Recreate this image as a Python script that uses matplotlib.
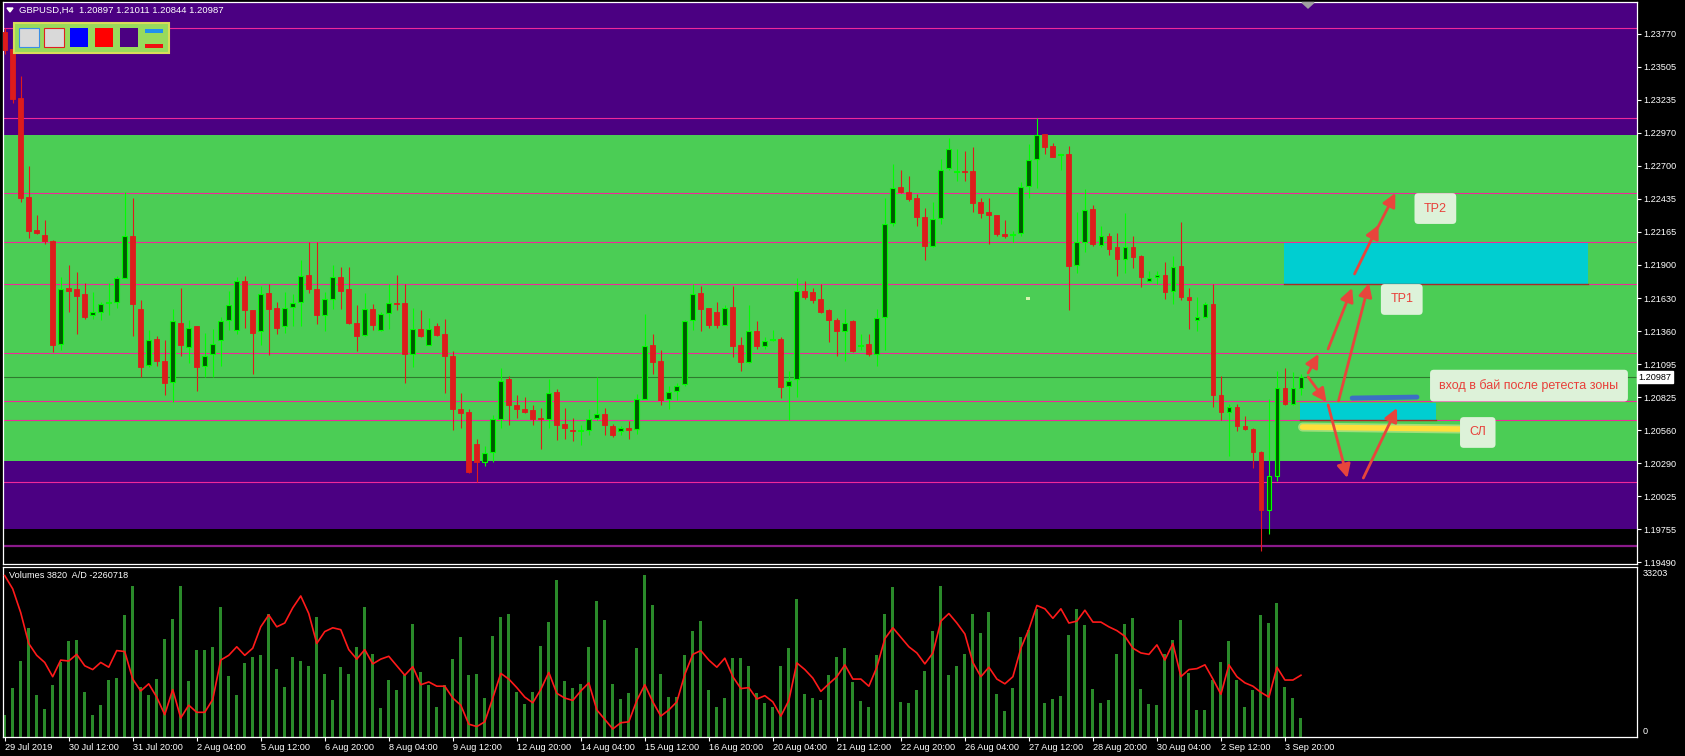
import matplotlib.pyplot as plt
import matplotlib.patches as patches
import numpy as np

plt.rcParams['font.family'] = ['Liberation Sans', 'DejaVu Sans']

W, H = 1685, 756

# GBPUSD H4 candles (29 Jul 2019 .. 4 Sep 2019)
opens = [
    1.2379, 1.2365, 1.2325, 1.2245, 1.2218, 1.2214, 1.2209, 1.2126, 1.2171, 1.2170,
    1.2166, 1.2149, 1.2152, 1.2159, 1.2160, 1.2179, 1.2213, 1.2154, 1.2109, 1.2130,
    1.2112, 1.2095, 1.2143, 1.2123, 1.2140, 1.2108, 1.2118, 1.2129, 1.2145, 1.2137,
    1.2177, 1.2153, 1.2136, 1.2167, 1.2155, 1.2140, 1.2156, 1.2160, 1.2182, 1.2170,
    1.2149, 1.2162, 1.2180, 1.2170, 1.2143, 1.2133, 1.2154, 1.2137, 1.2151, 1.2159,
    1.2159, 1.2118, 1.2138, 1.2125, 1.2140, 1.2134, 1.2116, 1.2073, 1.2071, 1.2045,
    1.2030, 1.2038, 1.2065, 1.2097, 1.2076, 1.2073, 1.2072, 1.2066, 1.2065, 1.2087,
    1.2061, 1.2056, 1.2055, 1.2056, 1.2066, 1.2069, 1.2059, 1.2055, 1.2058, 1.2057,
    1.2081, 1.2125, 1.2112, 1.2081, 1.2088, 1.2093, 1.2145, 1.2167, 1.2155, 1.2152,
    1.2141, 1.2156, 1.2125, 1.2111, 1.2136, 1.2124, 1.2129, 1.2130, 1.2092, 1.2097,
    1.2169, 1.2168, 1.2162, 1.2153, 1.2145, 1.2136, 1.2144, 1.2124, 1.2126, 1.2118,
    1.2148, 1.2224, 1.2253, 1.2249, 1.2244, 1.2229, 1.2205, 1.2228, 1.2268, 1.2265,
    1.2266, 1.2266, 1.2241, 1.2233, 1.2230, 1.2215, 1.2214, 1.2216, 1.2254, 1.2276,
    1.2296, 1.2286, 1.2279, 1.2280, 1.2190, 1.2208, 1.2235, 1.2206, 1.2213, 1.2204,
    1.2195, 1.2204, 1.2197, 1.2177, 1.2180, 1.2182, 1.2169, 1.2189, 1.2164, 1.2145,
    1.2148, 1.2158, 1.2084, 1.2071, 1.2075, 1.2059, 1.2057, 1.2038, 1.1991, 1.2019,
    1.2090, 1.2077, 1.20897]
highs = [
    1.2382, 1.2372, 1.2343, 1.2270, 1.2230, 1.2226, 1.2210, 1.2180, 1.2190, 1.2184,
    1.2175, 1.2168, 1.2160, 1.2175, 1.2181, 1.2249, 1.2244, 1.2161, 1.2137, 1.2132,
    1.2129, 1.2154, 1.2171, 1.2145, 1.2140, 1.2135, 1.2138, 1.2148, 1.2169, 1.2180,
    1.2181, 1.2153, 1.2173, 1.2174, 1.2160, 1.2168, 1.2166, 1.2194, 1.2208, 1.2208,
    1.2168, 1.2190, 1.2188, 1.2188, 1.2157, 1.2167, 1.2158, 1.2152, 1.2174, 1.2182,
    1.2174, 1.2155, 1.2153, 1.2147, 1.2143, 1.2146, 1.2120, 1.2086, 1.2073, 1.2049,
    1.2043, 1.2068, 1.2106, 1.2100, 1.2084, 1.2083, 1.2076, 1.2074, 1.2097, 1.2089,
    1.2074, 1.2066, 1.2060, 1.2073, 1.2099, 1.2074, 1.2061, 1.2059, 1.2063, 1.2085,
    1.2150, 1.2134, 1.2121, 1.2092, 1.2094, 1.2145, 1.2174, 1.2173, 1.2155, 1.2160,
    1.2157, 1.2173, 1.2131, 1.2157, 1.2144, 1.2131, 1.2137, 1.2131, 1.2104, 1.2179,
    1.2177, 1.2171, 1.2174, 1.2154, 1.2147, 1.2154, 1.2145, 1.2134, 1.2134, 1.2154,
    1.2244, 1.2272, 1.2267, 1.2262, 1.2247, 1.2236, 1.2241, 1.2276, 1.2293, 1.2284,
    1.2282, 1.2285, 1.2244, 1.2244, 1.2230, 1.2226, 1.2217, 1.2257, 1.2288, 1.2309,
    1.2296, 1.2289, 1.2280, 1.2286, 1.2233, 1.2251, 1.2238, 1.2221, 1.2216, 1.2216,
    1.2232, 1.2213, 1.2198, 1.2185, 1.2185, 1.2192, 1.2197, 1.2225, 1.2171, 1.2164,
    1.2160, 1.2174, 1.2100, 1.2077, 1.2077, 1.2067, 1.2058, 1.2039, 1.2081, 1.2104,
    1.2106, 1.2103, 1.21011]
lows = [
    1.2361, 1.2321, 1.2241, 1.2212, 1.2215, 1.2207, 1.2119, 1.2121, 1.2152, 1.2134,
    1.2146, 1.2146, 1.2145, 1.2149, 1.2155, 1.2181, 1.2132, 1.2099, 1.2107, 1.2108,
    1.2084, 1.2079, 1.2116, 1.2110, 1.2088, 1.2099, 1.2099, 1.2108, 1.2137, 1.2134,
    1.2139, 1.2101, 1.2125, 1.2117, 1.2134, 1.2135, 1.2140, 1.2140, 1.2167, 1.2142,
    1.2136, 1.2154, 1.2154, 1.2142, 1.2120, 1.2132, 1.2137, 1.2136, 1.2138, 1.2153,
    1.2094, 1.2107, 1.2131, 1.2125, 1.2132, 1.2086, 1.2056, 1.2058, 1.2021, 1.2014,
    1.2027, 1.2030, 1.2058, 1.2060, 1.2066, 1.2070, 1.2060, 1.2041, 1.2058, 1.2048,
    1.2049, 1.2047, 1.2044, 1.2052, 1.2064, 1.2052, 1.2050, 1.2052, 1.2049, 1.2053,
    1.2081, 1.2101, 1.2076, 1.2073, 1.2080, 1.2092, 1.2137, 1.2136, 1.2139, 1.2139,
    1.2141, 1.2115, 1.2104, 1.2110, 1.2122, 1.2122, 1.2128, 1.2082, 1.2064, 1.2083,
    1.2162, 1.2159, 1.2151, 1.2127, 1.2116, 1.2112, 1.2119, 1.2121, 1.2116, 1.2108,
    1.2121, 1.2221, 1.2248, 1.2242, 1.2221, 1.2194, 1.2204, 1.2223, 1.2267, 1.2258,
    1.2258, 1.2233, 1.2228, 1.2207, 1.2213, 1.2212, 1.2208, 1.2213, 1.2244, 1.2252,
    1.2280, 1.2277, 1.2267, 1.2153, 1.2183, 1.2200, 1.2205, 1.2204, 1.2198, 1.2181,
    1.2183, 1.2187, 1.2172, 1.2176, 1.2174, 1.2162, 1.2158, 1.2161, 1.2138, 1.2136,
    1.2147, 1.2075, 1.2064, 1.2035, 1.2055, 1.2056, 1.2025, 1.1958, 1.1972, 1.2015,
    1.2076, 1.2076, 1.20844]
closes = [
    1.2364, 1.2324, 1.2244, 1.2217, 1.2216, 1.2209, 1.2125, 1.2170, 1.2169, 1.2165,
    1.2148, 1.2152, 1.2158, 1.2160, 1.2179, 1.2213, 1.2158, 1.2107, 1.2129, 1.2112,
    1.2094, 1.2144, 1.2125, 1.2139, 1.2107, 1.2116, 1.2126, 1.2144, 1.2157, 1.2177,
    1.2153, 1.2135, 1.2166, 1.2154, 1.2139, 1.2155, 1.2159, 1.2181, 1.2170, 1.2149,
    1.2162, 1.2180, 1.2169, 1.2143, 1.2132, 1.2154, 1.2141, 1.2150, 1.2159, 1.2158,
    1.2118, 1.2138, 1.2132, 1.2138, 1.2133, 1.2116, 1.2073, 1.2070, 1.2022, 1.2030,
    1.2037, 1.2065, 1.2096, 1.2076, 1.2073, 1.2071, 1.2065, 1.2065, 1.2086, 1.2060,
    1.2058, 1.2055, 1.2056, 1.2065, 1.2069, 1.2060, 1.2052, 1.2058, 1.2056, 1.2081,
    1.2124, 1.2111, 1.2080, 1.2087, 1.2092, 1.2144, 1.2166, 1.2154, 1.2141, 1.2141,
    1.2155, 1.2124, 1.2111, 1.2136, 1.2124, 1.2128, 1.2130, 1.2091, 1.2096, 1.2169,
    1.2164, 1.2161, 1.2152, 1.2145, 1.2136, 1.2143, 1.2120, 1.2125, 1.2118, 1.2147,
    1.2223, 1.2252, 1.2249, 1.2243, 1.2229, 1.2205, 1.2227, 1.2267, 1.2284, 1.2266,
    1.2265, 1.2240, 1.2232, 1.2230, 1.2215, 1.2213, 1.2215, 1.2253, 1.2275, 1.2295,
    1.2285, 1.2277, 1.2279, 1.2189, 1.2208, 1.2234, 1.2207, 1.2213, 1.2203, 1.2195,
    1.2204, 1.2196, 1.2180, 1.2179, 1.2182, 1.2168, 1.2188, 1.2164, 1.2161, 1.2148,
    1.2158, 1.2084, 1.2071, 1.2075, 1.2059, 1.2057, 1.2038, 1.1991, 1.2019, 1.2090,
    1.2077, 1.2090, 1.20987]

volumes = [
    4480, 10020, 15570, 22180, 8560, 5740, 10700, 15370, 19560, 19750,
    9240, 4480, 6520, 11680, 12070, 24910, 30840, 10120, 8560, 11870,
    19950, 24030, 30840, 11480, 17710, 17710, 18290, 26560, 12550, 8560,
    15180, 16440, 16830, 25200, 13820, 10220, 16250, 15570, 14600, 24520,
    12940, 7590, 14210, 12940, 18290, 26560, 17030, 5940, 11680, 9630,
    12750, 23060, 13330, 10700, 6130, 10700, 15860, 20530, 12750, 12940,
    7980, 20720, 24520, 25100, 9240, 6710, 9240, 18680, 23450, 32110,
    11480, 10020, 10900, 18490, 27730, 23840, 10900, 7780, 9050, 18100,
    33203, 26950, 12940, 8170, 8170, 16830, 21600, 23640, 9630, 6130,
    7980, 16050, 16050, 14600, 9050, 6910, 6130, 14600, 18100, 28220,
    8760, 7980, 7590, 12750, 16250, 18100, 11290, 7390, 6130, 16830,
    25100, 30650, 7200, 6910, 9630, 13520, 21600, 30840, 12750, 14600,
    17030, 25100, 21210, 25490, 8760, 5250, 10020, 20530, 21800, 26080,
    6910, 7780, 8370, 20920, 26080, 22870, 9830, 6910, 7590, 17030,
    23060, 24230, 9830, 6710, 6520, 17030, 19750, 23840, 13140, 5550,
    5550, 11680, 15370, 19560, 11680, 6130, 9630, 24910, 23250, 27340,
    10220, 7980, 3820]

# Accumulation/Distribution, thousands
ad_k = [
    -1631, -1715, -1865, -2060, -2135, -2180, -2270, -2165, -2171, -2129,
    -2201, -2225, -2180, -2210, -2105, -2111, -2285, -2360, -2315, -2399,
    -2510, -2351, -2531, -2450, -2495, -2495, -2414, -2165, -2135, -2081,
    -2135, -2090, -1955, -1880, -1955, -1931, -1835, -1760, -1871, -2060,
    -1985, -1961, -1973, -2099, -2159, -2099, -2189, -2159, -2141, -2201,
    -2261, -2207, -2321, -2303, -2330, -2330, -2405, -2450, -2570, -2585,
    -2555, -2405, -2249, -2285, -2339, -2399, -2435, -2351, -2243, -2375,
    -2405, -2420, -2360, -2309, -2480, -2540, -2600, -2561, -2555, -2420,
    -2321, -2429, -2519, -2480, -2429, -2255, -2129, -2105, -2165, -2210,
    -2153, -2270, -2345, -2339, -2411, -2390, -2429, -2519, -2420, -2183,
    -2225, -2279, -2363, -2315, -2270, -2195, -2285, -2285, -2330, -2210,
    -2030, -1961, -2021, -2081, -2120, -2189, -2120, -1919, -1871, -1931,
    -2000, -2180, -2270, -2210, -2285, -2315, -2270, -2090, -1970, -1820,
    -1841, -1901, -1841, -1931, -1919, -1850, -1925, -1925, -1955, -1979,
    -2015, -2090, -2120, -2129, -2069, -2165, -2060, -2270, -2225, -2219,
    -2195, -2285, -2381, -2195, -2270, -2309, -2330, -2369, -2399, -2210,
    -2291, -2291, -2260.718]

price_ticks = [1.23770, 1.23505, 1.23235, 1.22970, 1.22700, 1.22435, 1.22165,
               1.21900, 1.21630, 1.21360, 1.21095, 1.20825, 1.20560, 1.20290,
               1.20025, 1.19755, 1.19490]
time_labels = ['29 Jul 2019', '30 Jul 12:00', '31 Jul 20:00', '2 Aug 04:00',
               '5 Aug 12:00', '6 Aug 20:00', '8 Aug 04:00', '9 Aug 12:00',
               '12 Aug 20:00', '14 Aug 04:00', '15 Aug 12:00', '16 Aug 20:00',
               '20 Aug 04:00', '21 Aug 12:00', '22 Aug 20:00', '26 Aug 04:00',
               '27 Aug 12:00', '28 Aug 20:00', '30 Aug 04:00', '2 Sep 12:00',
               '3 Sep 20:00']
time_tick_bars = list(range(0, 161, 8))

# zones and levels drawn by the trader
purple_zones = [(1.22951, 1.2450), (1.19758, 1.20309)]
green_zone = (1.20309, 1.22951)
levels = [1.23816, 1.23093, 1.22485, 1.22080, 1.21740, 1.21186,
          1.20792, 1.20643, 1.20142]
low_level = 1.19618
last_price = 1.20987
cyan_boxes = [(159.9, 197.9, 1.21744, 1.22076), (161.9, 178.9, 1.20641, 1.20779)]
arrows = [((162.9, 1.21022), (164.2, 1.21176)),
          ((165.4, 1.21217), (168.4, 1.21711)),
          ((168.7, 1.21825), (171.7, 1.22222)),
          ((171.2, 1.22150), (173.8, 1.22481)),
          ((166.7, 1.20795), (170.5, 1.21750)),
          ((162.9, 1.20990), (165.2, 1.20787)),
          ((165.4, 1.20763), (167.8, 1.20171)),
          ((169.8, 1.20171), (174.0, 1.20738))]
labels = [(178.8, 1.22355, 'TP2'), (174.6, 1.21618, 'TP1'),
          (190.5, 1.20920, 'вход в бай после ретеста зоны'), (184.1, 1.20540, 'СЛ')]

GREEN = '#4bcd55'
INDIGO = '#4b0082'
MAGENTA = '#f0289a'

o = np.array(opens); h = np.array(highs); l = np.array(lows); c = np.array(closes)
x = np.arange(len(o))
bull = c >= o

fig = plt.figure(figsize=(W / 100, H / 100), dpi=100, facecolor='black')


def fx(px):
    return px / W


def fy(py):
    return 1 - py / H


ax = fig.add_axes([fx(3.3), fy(564), (1637 - 3.3) / W, (564 - 2.4) / H])
axv = fig.add_axes([fx(3.3), fy(737), (1637 - 3.3) / W, (737 - 567) / H], sharex=ax)

ax.set_facecolor('black')
for lo, hi in purple_zones:
    ax.axhspan(lo, hi, color=INDIGO, lw=0, zorder=0)
ax.axhspan(*green_zone, color=GREEN, lw=0, zorder=0)
for lv in levels:
    ax.axhline(lv, color=MAGENTA, lw=0.8, zorder=1)
ax.axhline(low_level, color='#8a1a8a', lw=1.6, zorder=1)
ax.axhline(last_price, color='#2e7a2e', lw=0.8, zorder=1)

for x0, x1, y0, y1 in cyan_boxes:
    ax.add_patch(patches.Rectangle((x0, y0), x1 - x0, y1 - y0, color='#00ced1', lw=0, zorder=2))
    ax.plot([x0, x1], [y0, y0], color='#a82a2a', lw=1.0, zorder=2.1)

# candles
ax.vlines(x[bull], l[bull], h[bull], color='#00ff00', lw=0.8, zorder=3)
ax.vlines(x[~bull], l[~bull], h[~bull], color='#e01b1b', lw=0.8, zorder=3)
body_lo = np.minimum(o, c)
body_h = np.maximum(np.abs(c - o), 0.00008)
ax.bar(x[bull], body_h[bull], 0.6, body_lo[bull], color='#005a00',
       edgecolor='#00ff00', lw=0.8, zorder=4)
ax.bar(x[~bull], body_h[~bull], 0.6, body_lo[~bull], color='#dd1c1c',
       edgecolor='#dd1c1c', lw=0.6, zorder=4)

# trader's drawings
ax.plot([162.2, 181.8], [1.20584, 1.20568], color='#f6f0a0', lw=6.5, alpha=0.5,
        solid_capstyle='round', zorder=5)
ax.plot([162.2, 181.8], [1.20584, 1.20568], color='#ffdf3a', lw=4, solid_capstyle='round', zorder=5)
ax.plot([168.4, 176.5], [1.20819, 1.20827], color='#3c6fc4', lw=3.5, solid_capstyle='round', zorder=5)
for start, end in arrows:
    ax.annotate('', xy=end, xytext=start, zorder=6,
                arrowprops=dict(arrowstyle='-|>', color='#e8453c', lw=2.0,
                                mutation_scale=20, shrinkA=0, shrinkB=0))
for lx, ly, txt in labels:
    ax.text(lx, ly, txt, ha='center', va='center', fontsize=9, color='#e8403a', zorder=7,
            bbox=dict(boxstyle='round,pad=0.75,rounding_size=0.3', fc='#ddf2d9', ec='none'))

ax.set_xlim(-0.175, 204.0)
ax.set_ylim(1.19474, 1.24026)
ax.yaxis.tick_right()
ax.set_yticks(price_ticks)
ax.set_yticklabels([f'{p:.5f}' for p in price_ticks])
ax.tick_params(axis='y', colors='white', length=3, width=0.8, pad=1.5, labelsize=6.6)
ax.tick_params(axis='x', bottom=False, labelbottom=False)
for sp in ax.spines.values():
    sp.set_color('white')
    sp.set_linewidth(0.9)
ax.text(1.0008, last_price, f'{last_price:.5f}', transform=ax.get_yaxis_transform(),
        va='center', ha='left', fontsize=6.6, color='black',
        bbox=dict(boxstyle='square,pad=0.15', fc='white', ec='white'))

# volumes + A/D
axv.set_facecolor('black')
axv.bar(x, volumes, 0.38, color='#2a8a2a', zorder=2)
axv.set_ylim(0, 34736)
axv.set_yticks([])
axv.set_xticks(time_tick_bars)
axv.set_xticklabels(time_labels)
for t in axv.get_xticklabels():
    t.set_ha('left')
axv.tick_params(axis='x', colors='white', length=3, width=0.8, pad=1.5, labelsize=6.6)
for sp in axv.spines.values():
    sp.set_color('white')
    sp.set_linewidth(0.9)

axa = axv.twinx()
axa.plot(x, ad_k, color='#ff1a1a', lw=1.2, zorder=3)
axa.set_ylim(-2651, -1577)
axa.set_yticks([])
for sp in axa.spines.values():
    sp.set_visible(False)

fig.text(fx(1643), fy(574), '33203', color='white', fontsize=6.6, va='center', ha='left')
fig.text(fx(1643), fy(731), '0', color='white', fontsize=6.6, va='center', ha='left')
fig.text(fx(9), fy(576), 'Volumes 3820  A/D -2260718', color='white', fontsize=6.6, va='center', ha='left')

# header
fig.text(fx(19), fy(10), 'GBPUSD,H4  1.20897 1.21011 1.20844 1.20987', color='white',
         fontsize=6.8, va='center', ha='left')
fig.add_artist(patches.Polygon([(fx(7), fy(8)), (fx(13), fy(8)), (fx(10), fy(12))],
                               closed=True, color='white', transform=fig.transFigure))
fig.add_artist(patches.Polygon([(fx(1302), fy(2.5)), (fx(1314), fy(2.5)), (fx(1308), fy(8))],
                               closed=True, color='#a0a0a0', transform=fig.transFigure))


def rect_px(x0, y0, x1, y1, **kw):
    fig.add_artist(patches.Rectangle((fx(x0), fy(y1)), (x1 - x0) / W, (y1 - y0) / H,
                                     transform=fig.transFigure, **kw))


# colour panel in the corner
rect_px(14, 23, 169, 53, fc='#98da5c', ec='#d8dc5a', lw=1.5)
rect_px(19, 28, 39, 47, fc='#d9d9d9', ec='#3a8ee6', lw=0.8)
rect_px(44, 28, 64, 47, fc='#d9d9d9', ec='#e02020', lw=0.8)
rect_px(70, 28, 88, 47, fc='#0000ff', ec='none')
rect_px(95, 28, 113, 47, fc='#ff0000', ec='none')
rect_px(120, 28, 138, 47, fc=INDIGO, ec='none')
rect_px(145, 29, 163, 33, fc='#2090f0', ec='none')
rect_px(145, 44, 163, 48, fc='#f01010', ec='none')
rect_px(1026, 297, 1030, 300, fc='#d8f4b0', ec='none')

fig.savefig('out.png', dpi=100, facecolor='black')
